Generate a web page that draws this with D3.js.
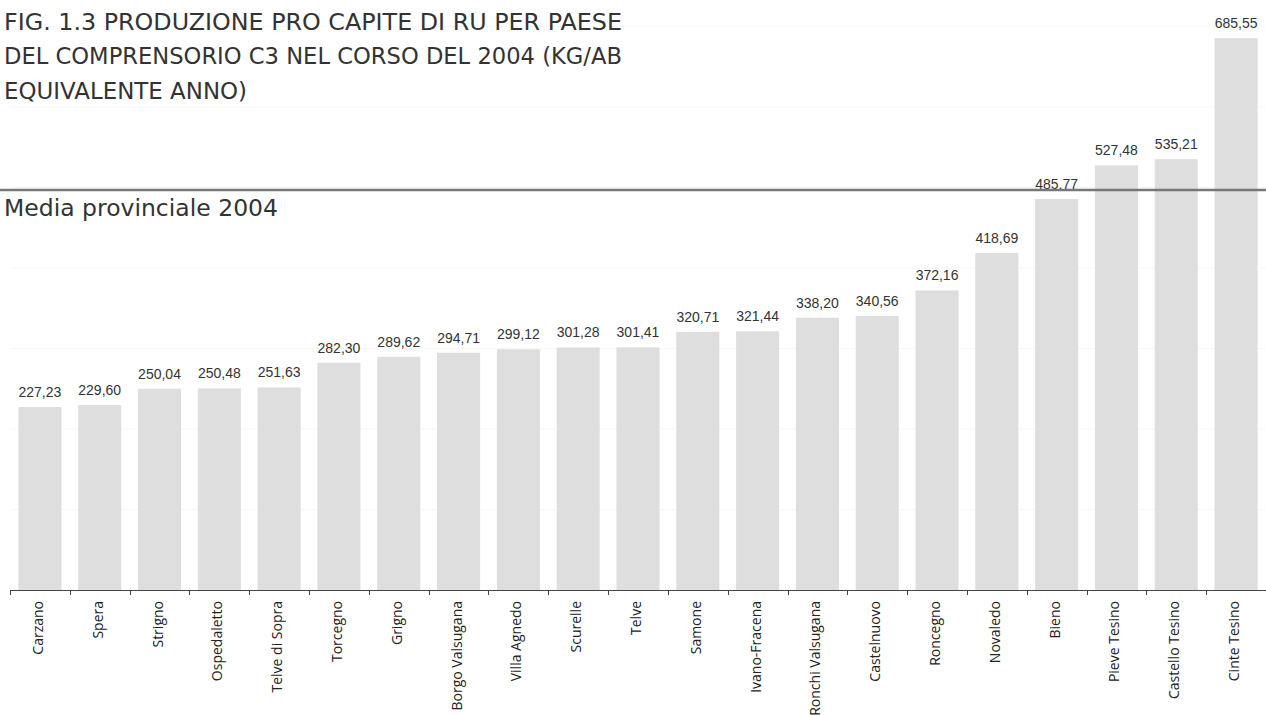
<!DOCTYPE html>
<html>
  <head>
    <meta charset="utf-8">
    <script src="https://d3js.org/d3.v7.min.js"></script>
    <title>Produzione pro capite RU</title>
    <style>
      body { margin: 0px; background: #fff; }
      .title, .media-label {
        font-family: 'DejaVu Sans', sans-serif;
        font-size: 23px;
        fill: #333;
      }
      .value-label {
        font-family: 'Liberation Sans', Arial, sans-serif;
        font-size: 14px;
        fill: #333;
        text-anchor: middle;
      }
      .x-axis text {
        font-family: 'Open Sans', sans-serif;
        font-size: 14px;
        fill: #222;
      }
      .x-axis line { stroke: #444; }
    </style>
  </head>
  <body>
    <script>
      const comuni = ['Carzano', 'Spera', 'Strigno', 'Ospedaletto', 'Telve di Sopra', 'Torcegno',
        'Grigno', 'Borgo Valsugana', 'Villa Agnedo', 'Scurelle', 'Telve', 'Samone',
        'Ivano-Fracena', 'Ronchi Valsugana', 'Castelnuovo', 'Roncegno', 'Novaledo', 'Bieno',
        'Pieve Tesino', 'Castello Tesino', 'Cinte Tesino'];
      const kgAbitante = [227.23, 229.60, 250.04, 250.48, 251.63, 282.30,
        289.62, 294.71, 299.12, 301.28, 301.41, 320.71,
        321.44, 338.20, 340.56, 372.16, 418.69, 485.77,
        527.48, 535.21, 685.55];
      const mediaProvinciale = 497;
      const gridValues = [100, 200, 300, 400, 500, 600, 700];
      const titleLines = ['FIG. 1.3 PRODUZIONE PRO CAPITE DI RU PER PAESE',
        'DEL COMPRENSORIO C3 NEL CORSO DEL 2004 (KG/AB',
        'EQUIVALENTE ANNO)'];
      // widths of the title lines as they appear in the original figure
      const titleWidths = [618, 618, 243];

      const data = comuni.map((c, i) => ({ comune: c, valore: kgAbitante[i] }));
      const fmt = v => v.toFixed(2).replace('.', ',');

      const width = 1266, height = 715;
      const svg = d3.select('body').append('svg')
        .attr('width', width)
        .attr('height', height);

      const xScale = d3.scaleBand()
        .domain(comuni)
        .range([10, 1266])
        .paddingInner(0.28)
        .paddingOuter(0.14);

      const yScale = d3.scaleLinear()
        .domain([0, 700])
        .range([590, 26.5]);

      // faint gridlines
      svg.append('g').selectAll('line').data(gridValues)
        .enter().append('line')
          .attr('x1', 10).attr('x2', width)
          .attr('y1', d => yScale(d)).attr('y2', d => yScale(d))
          .attr('stroke', '#f7f7f7');

      svg.append('g').selectAll('rect').data(data)
        .enter().append('rect')
          .attr('x', d => xScale(d.comune))
          .attr('y', d => yScale(d.valore))
          .attr('width', xScale.bandwidth())
          .attr('height', d => yScale(0) - yScale(d.valore))
          .attr('fill', '#dedede');

      svg.append('g').selectAll('text').data(data)
        .enter().append('text')
          .attr('class', 'value-label')
          .attr('x', d => xScale(d.comune) + xScale.bandwidth() / 2)
          .attr('y', d => yScale(d.valore) - 10)
          .text(d => fmt(d.valore));

      // media provinciale
      svg.append('line')
        .attr('x1', 0).attr('x2', width)
        .attr('y1', yScale(mediaProvinciale)).attr('y2', yScale(mediaProvinciale))
        .attr('stroke', '#777')
        .attr('stroke-width', 2.5);

      svg.append('text')
        .attr('class', 'media-label')
        .attr('x', 4)
        .attr('y', 216)
        .attr('textLength', 274)
        .attr('lengthAdjust', 'spacingAndGlyphs')
        .text('Media provinciale 2004');

      svg.append('g').selectAll('text').data(titleLines)
        .enter().append('text')
          .attr('class', 'title')
          .attr('x', 4)
          .attr('y', (d, i) => 29.5 + i * 34.5)
          .attr('textLength', (d, i) => titleWidths[i])
          .attr('lengthAdjust', 'spacingAndGlyphs')
          .text(d => d);

      // x axis with ticks between the bars
      const xAxisG = svg.append('g')
        .attr('class', 'x-axis')
        .attr('transform', `translate(0, ${yScale(0)})`);

      xAxisG.append('line')
        .attr('x1', 10).attr('x2', width)
        .attr('y1', 0.5).attr('y2', 0.5);

      const step = xScale.step();
      const tickX = d3.range(comuni.length + 1).map(i => xScale(comuni[0]) - step * 0.14 + i * step);
      xAxisG.selectAll('.tick').data(tickX)
        .enter().append('line')
          .attr('class', 'tick')
          .attr('x1', d => Math.round(d) + 0.5).attr('x2', d => Math.round(d) + 0.5)
          .attr('y1', 0).attr('y2', 5);

      xAxisG.selectAll('.cat').data(comuni)
        .enter().append('text')
          .attr('class', 'cat')
          .attr('transform', d => `translate(${xScale(d) + xScale.bandwidth() / 2 + 3}, 11) rotate(-90)`)
          .attr('text-anchor', 'end')
          .text(d => d);
    </script>
  </body>
</html>
